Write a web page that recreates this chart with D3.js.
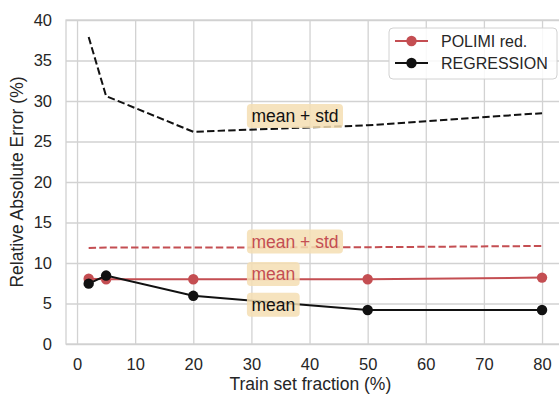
<!DOCTYPE html>
<html>
<head>
<meta charset="utf-8">
<script src="https://cdn.jsdelivr.net/npm/d3@7"></script>
<style>
    body { margin: 0; background: #fff; }
    text { font-family: "Liberation Sans", Arial, sans-serif; }
</style>
</head>
<body>
<div id="wrapper"></div>
<script>
const trainFractions = [2, 5, 20, 50, 80]
const polimiMean = [8.05, 8.0, 8.0, 8.0, 8.2]
const polimiMeanStd = [11.85, 11.9, 11.9, 11.95, 12.1]
const regressionMean = [7.45, 8.45, 5.95, 4.2, 4.2]
const regressionMeanStd = [37.9, 30.6, 26.2, 27.0, 28.5]
const xTicks = [0, 10, 20, 30, 40, 50, 60, 70, 80]
const yTicks = [0, 5, 10, 15, 20, 25, 30, 35, 40]
const legendNames = ["POLIMI red.", "REGRESSION"]
// annotation labels: [x, y (baseline), text, series]
const annotations = [
    [30, 27.4, "mean + std", "REGRESSION"],
    [30, 11.9, "mean + std", "POLIMI red."],
    [30, 7.9, "mean", "POLIMI red."],
    [30, 4.1, "mean", "REGRESSION"],
]

function drawChart() {
    const dimensions = {
        width: 559,
        height: 394,
        margin: { top: 20, left: 66, bottom: 50 },
    }
    const plotBottom = dimensions.height - dimensions.margin.bottom
    const plotRight = 564.7

    const colors = { "POLIMI red.": "#c44e52", "REGRESSION": "#111111" }
    const gridColor = "#d2d2d2"
    const textColor = "#262626"

    const svg = d3.select("#wrapper")
        .append("svg")
        .attr("width", dimensions.width)
        .attr("height", dimensions.height)

    const xScaler = d3.scaleLinear()
        .domain([-1.9, 83.9])
        .range([dimensions.margin.left, plotRight])

    const yScaler = d3.scaleLinear()
        .domain([0, 40])
        .range([plotBottom, dimensions.margin.top])

    // grid
    const xAxis = svg.append("g")
        .attr("transform", `translate(0, ${plotBottom})`)
        .call(d3.axisBottom(xScaler).tickValues(xTicks)
            .tickSize(-(plotBottom - dimensions.margin.top)).tickPadding(14))
    const yAxis = svg.append("g")
        .attr("transform", `translate(${dimensions.margin.left}, 0)`)
        .call(d3.axisLeft(yScaler).tickValues(yTicks)
            .tickSize(-(plotRight - dimensions.margin.left)).tickPadding(14))

    for (const ax of [xAxis, yAxis]) {
        ax.select(".domain").remove()
        ax.selectAll(".tick line").attr("stroke", gridColor).attr("stroke-width", 1.3)
        ax.selectAll(".tick text")
            .attr("fill", textColor)
            .style("font-size", "16.5px")
    }

    svg.append("rect")
        .attr("x", dimensions.margin.left)
        .attr("y", dimensions.margin.top)
        .attr("width", plotRight - dimensions.margin.left)
        .attr("height", plotBottom - dimensions.margin.top)
        .attr("fill", "none")
        .attr("stroke", gridColor)
        .attr("stroke-width", 1.3)

    const lineGen = vals => d3.line()
        .x((d, i) => xScaler(trainFractions[i]))
        .y(d => yScaler(d))(vals)

    const series = [
        { values: polimiMeanStd, name: "POLIMI red.", dashed: true },
        { values: polimiMean, name: "POLIMI red.", dashed: false },
        { values: regressionMean, name: "REGRESSION", dashed: false },
        { values: regressionMeanStd, name: "REGRESSION", dashed: true },
    ]

    series.forEach(s => {
        svg.append("path")
            .attr("d", lineGen(s.values))
            .attr("fill", "none")
            .attr("stroke", colors[s.name])
            .attr("stroke-width", 2)
            .attr("stroke-dasharray", s.dashed ? "7.4,3.2" : null)
        if (!s.dashed) {
            svg.selectAll(null)
                .data(s.values)
                .join("circle")
                .attr("cx", (d, i) => xScaler(trainFractions[i]))
                .attr("cy", d => yScaler(d))
                .attr("r", 5.2)
                .attr("fill", colors[s.name])
        }
    })

    // annotation boxes
    annotations.forEach(([ax, ay, label, name]) => {
        const g = svg.append("g")
        const t = g.append("text")
            .attr("x", xScaler(ax))
            .attr("y", yScaler(ay))
            .attr("fill", colors[name])
            .style("font-size", "17.5px")
            .text(label)
        const bb = t.node().getBBox()
        g.insert("rect", "text")
            .attr("x", bb.x - 4.5)
            .attr("y", bb.y - 2)
            .attr("width", bb.width + 9)
            .attr("height", bb.height + 4)
            .attr("rx", 4)
            .attr("fill", "#f5deb3")
            .attr("fill-opacity", 0.85)
    })

    // legend
    const legend = svg.append("g")
    legend.append("rect")
        .attr("x", 389)
        .attr("y", 28)
        .attr("width", 168)
        .attr("height", 51)
        .attr("rx", 4)
        .attr("fill", "#fff")
        .attr("fill-opacity", 0.85)
        .attr("stroke", "#d2d2d2")
    legendNames.forEach((name, i) => {
        const y = 41 + i * 22
        legend.append("line")
            .attr("x1", 395).attr("x2", 428)
            .attr("y1", y).attr("y2", y)
            .attr("stroke", colors[name])
            .attr("stroke-width", 2)
        legend.append("circle")
            .attr("cx", 411.5).attr("cy", y).attr("r", 5.2)
            .attr("fill", colors[name])
        legend.append("text")
            .attr("x", 441)
            .attr("y", y + 6)
            .attr("fill", textColor)
            .style("font-size", "16px")
            .text(name)
    })

    // axis titles
    svg.append("text")
        .attr("x", (dimensions.margin.left + plotRight) / 2 - 5)
        .attr("y", 390)
        .attr("text-anchor", "middle")
        .attr("fill", textColor)
        .style("font-size", "17.5px")
        .text("Train set fraction (%)")

    svg.append("text")
        .attr("transform", `translate(23, ${(dimensions.margin.top + plotBottom) / 2}) rotate(-90)`)
        .attr("text-anchor", "middle")
        .attr("fill", textColor)
        .style("font-size", "17.5px")
        .text("Relative Absolute Error (%)")
}

drawChart()
</script>
</body>
</html>
